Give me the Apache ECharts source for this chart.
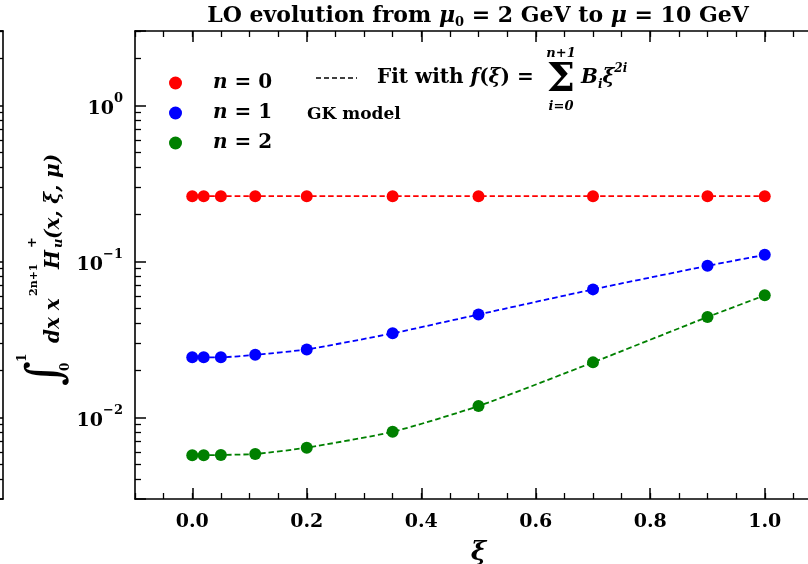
<!DOCTYPE html>
<html>
<head>
<meta charset="utf-8">
<script src="https://cdn.jsdelivr.net/npm/echarts@6/dist/echarts.min.js"></script>
<style>
  html, body { margin: 0; padding: 0; background: #fff; }
  #chart { width: 808px; height: 564px; }
</style>
</head>
<body>
<div id="chart"></div>
<script>
// Skewness values of the sampled points
const xi = [0, 0.02, 0.05, 0.11, 0.2, 0.35, 0.5, 0.7, 0.9, 1.0];

// Mellin moments for n = 0, 1, 2 (GK model, evolved to mu = 10 GeV)
const momentN0 = [0.262, 0.262, 0.262, 0.262, 0.262, 0.262, 0.262, 0.262, 0.262, 0.262];
const momentN1 = [0.0243, 0.0243, 0.0243, 0.0252, 0.0273, 0.0346, 0.0457, 0.0662, 0.0937, 0.1102];
const momentN2 = [0.00572, 0.00572, 0.00575, 0.00583, 0.0064, 0.00809, 0.01183, 0.02254, 0.0440, 0.0606];

const seriesNames = ['n = 0', 'n = 1', 'n = 2'];
const seriesColors = ['#ff0000', '#0000ff', '#008000'];

// Axis ticks
const xMajorTicks = [0.0, 0.2, 0.4, 0.6, 0.8, 1.0];
const yMinorTicks = [0.004, 0.005, 0.006, 0.007, 0.008, 0.009,
                     0.02, 0.03, 0.04, 0.05, 0.06, 0.07, 0.08, 0.09,
                     0.2, 0.3, 0.4, 0.5, 0.6, 0.7, 0.8, 0.9, 2, 3];
const xRange = [-0.1, 1.1];
const yRange = [0.003, 3];

const FONT = 'DejaVu Serif';
const BLACK = '#000';
const SPINE = { show: true, onZero: false, lineStyle: { color: BLACK, width: 1.6 } };
const NO_LINE = { show: false, onZero: false };

const chart = echarts.init(document.getElementById('chart'), null, { renderer: 'canvas' });

const momentSets = [momentN0, momentN1, momentN2];

// x axes: major + minor ticks at the bottom and mirrored at the top
function xAxisPair(position, withLabels) {
  const major = {
    type: 'value', gridIndex: 0, position: position,
    min: xRange[0], max: xRange[1], interval: 0.05,
    axisLine: SPINE,
    axisTick: { show: true, inside: true, length: 11, customValues: xMajorTicks,
                lineStyle: { color: BLACK, width: 1.5 } },
    axisLabel: withLabels ? {
      show: true, customValues: xMajorTicks, margin: 14,
      formatter: v => v.toFixed(1),
      fontFamily: FONT, fontWeight: 'bold', fontSize: 19, color: BLACK
    } : { show: false },
    splitLine: { show: false }
  };
  if (withLabels) {
    major.name = 'ξ';
    major.nameLocation = 'middle';
    major.nameGap = 41;
    major.nameTextStyle = { fontFamily: FONT, fontWeight: 'bold', fontStyle: 'italic', fontSize: 26, color: BLACK };
  }
  const minor = {
    type: 'value', gridIndex: 0, position: position,
    min: xRange[0], max: xRange[1], interval: 0.05,
    axisLine: NO_LINE,
    axisTick: { show: true, inside: true, length: 6, lineStyle: { color: BLACK, width: 1.3 } },
    axisLabel: { show: false }, splitLine: { show: false }
  };
  return [major, minor];
}

const logMin = Math.log10(yRange[0]);
const logMax = Math.log10(yRange[1]);

function yLabel(v) {
  const lg = Math.log10(v);
  const e = Math.round(lg);
  if (Math.abs(lg - e) > 1e-6) return '';
  return '{b|10}{s|' + (e < 0 ? '\u2212' + (-e) : e) + '}';
}

function yAxisPair(gridIndex, position, withLabels) {
  const major = {
    type: 'log', logBase: 10, gridIndex: gridIndex, position: position,
    min: yRange[0], max: yRange[1],
    axisLine: SPINE,
    axisTick: { show: true, inside: true, length: 11, lineStyle: { color: BLACK, width: 1.5 } },
    axisLabel: withLabels ? {
      show: true, margin: 12, formatter: yLabel,
      rich: {
        b: { fontFamily: FONT, fontWeight: 'bold', fontSize: 19, color: BLACK, lineHeight: 26, verticalAlign: 'bottom' },
        s: { fontFamily: FONT, fontWeight: 'bold', fontSize: 13, color: BLACK, verticalAlign: 'top' }
      }
    } : { show: false },
    splitLine: { show: false }
  };
  const minor = {
    type: 'value', gridIndex: gridIndex, position: position,
    min: logMin, max: logMax,
    axisLine: NO_LINE,
    axisTick: { show: true, inside: true, length: 6, customValues: yMinorTicks.map(Math.log10),
                lineStyle: { color: BLACK, width: 1.3 } },
    axisLabel: { show: false }, splitLine: { show: false }
  };
  return [major, minor];
}

// frame of the neighbouring panel (only its right edge shows)
const neighbourX = [0, 1].map(i => ({
  type: 'value', gridIndex: 1, position: i ? 'top' : 'bottom', min: 0, max: 1,
  axisLine: SPINE, axisTick: { show: false }, axisLabel: { show: false }, splitLine: { show: false }
}));

const xAxes = [].concat(xAxisPair('bottom', true), xAxisPair('top', false), neighbourX);
const yAxes = [].concat(yAxisPair(0, 'left', true), yAxisPair(0, 'right', false), yAxisPair(1, 'right', false));

const series = momentSets.map((vals, i) => ({
  type: 'line',
  name: seriesNames[i],
  xAxisIndex: 0, yAxisIndex: 0,
  data: xi.map((x, k) => [x, vals[k]]),
  smooth: 0.2,
  symbol: 'circle',
  symbolSize: 12,
  itemStyle: { color: seriesColors[i] },
  lineStyle: { color: seriesColors[i], width: 1.8, type: [5.5, 3] },
  emphasis: { disabled: true },
  animation: false
}));

const MATH = { fontFamily: FONT, fontWeight: 'bold', fontStyle: 'italic', color: BLACK };
const ROMAN = { fontFamily: FONT, fontWeight: 'bold', color: BLACK };

// y-axis title: ∫_0^1 dx x^{2n+1} H_u^+(x, ξ, μ), written along the axis
function axisText(text, x, y, size, italic, extra) {
  return {
    type: 'text', x: x, y: y,
    style: Object.assign({
      text: text, fill: BLACK,
      font: (italic ? 'italic ' : '') + 'bold ' + size + 'px "' + FONT + '"',
      align: 'left', verticalAlign: 'middle'
    }, extra || {})
  };
}

const yTitle = {
  type: 'group', x: 54, y: 265, rotation: Math.PI / 2,
  children: [
    axisText('\u222B', -121, -6, 48, false, { font: 'italic 48px "DejaVu Serif"' }),
    axisText('1', -97, -31, 12, false),
    axisText('0', -106, 12, 12, false),
    axisText('dx x', -78, 0, 20, true),
    axisText('2n+1', -31, -20, 11, false),
    axisText('H', -4, 0, 20, true),
    axisText('+', 17, -21, 13, false),
    axisText('u', 17, 5, 13, true),
    axisText('(x, \u03BE, \u03BC)', 26, 0, 20, true)
  ]
};

// dashed fit entry with its formula
const fitEntry = [
  { type: 'line', shape: { x1: 316, y1: 78, x2: 357, y2: 78 },
    style: { stroke: BLACK, lineWidth: 1.5, lineDash: [5, 3] } },
  { type: 'text', x: 377, y: 78,
    style: { text: '{r|Fit with }{m|f}{r|(}{m|\u03BE}{r|) =}', align: 'left', verticalAlign: 'middle',
      rich: { r: Object.assign({ fontSize: 20 }, ROMAN), m: Object.assign({ fontSize: 20 }, MATH) } } },
  { type: 'text', x: 561, y: 81,
    style: { text: '\u03A3', font: 'bold 40px "' + FONT + '"', fill: BLACK, align: 'center', verticalAlign: 'middle' } },
  { type: 'text', x: 561, y: 54,
    style: { text: 'n+1', font: 'italic bold 13px "' + FONT + '"', fill: BLACK, align: 'center', verticalAlign: 'middle' } },
  { type: 'text', x: 561, y: 107,
    style: { text: 'i=0', font: 'italic bold 13px "' + FONT + '"', fill: BLACK, align: 'center', verticalAlign: 'middle' } },
  { type: 'text', x: 581, y: 78,
    style: { text: '{m|B}{sb|i}{m|\u03BE}{sp|2i}', align: 'left', verticalAlign: 'middle',
      rich: {
        m: Object.assign({ fontSize: 20, lineHeight: 30 }, MATH),
        sb: Object.assign({ fontSize: 12, verticalAlign: 'bottom', padding: [0, 0, 2, 0] }, MATH),
        sp: Object.assign({ fontSize: 12, verticalAlign: 'top' }, MATH)
      } } },
  { type: 'text', x: 307, y: 115,
    style: { text: 'GK model', font: 'bold 17px "' + FONT + '"', fill: BLACK, align: 'left', verticalAlign: 'middle' } }
];

const option = {
  backgroundColor: '#fff',
  animation: false,
  title: {
    text: '{r|LO evolution from }{m|\u03BC}{s|0}{r| = 2 GeV to }{m|\u03BC}{r| = 10 GeV}',
    left: 473, top: -2, textAlign: 'center',
    textStyle: {
      rich: {
        r: Object.assign({ fontSize: 22, lineHeight: 26 }, ROMAN),
        m: Object.assign({ fontSize: 22, lineHeight: 26 }, MATH),
        s: Object.assign({ fontSize: 13, verticalAlign: 'bottom' }, ROMAN)
      }
    }
  },
  grid: [
    { left: 135, top: 31, width: 687, height: 468, outerBoundsMode: 'none', containLabel: false },
    { left: -400, top: 31, width: 403, height: 468, outerBoundsMode: 'none', containLabel: false }
  ],
  legend: {
    orient: 'vertical', left: 164, top: 68,
    itemWidth: 13, itemHeight: 13, itemGap: 10,
    icon: 'circle', selectedMode: false,
    data: seriesNames,
    formatter: name => '{m|n}{r| = ' + name.slice(-1) + '}',
    textStyle: {
      padding: [0, 0, 0, 26],
      rich: {
        m: Object.assign({ fontSize: 20, lineHeight: 20 }, MATH),
        r: Object.assign({ fontSize: 20, lineHeight: 20 }, ROMAN)
      }
    }
  },
  xAxis: xAxes,
  yAxis: yAxes,
  series: series,
  graphic: [yTitle].concat(fitEntry)
};

chart.setOption(option);
</script>
</body>
</html>
